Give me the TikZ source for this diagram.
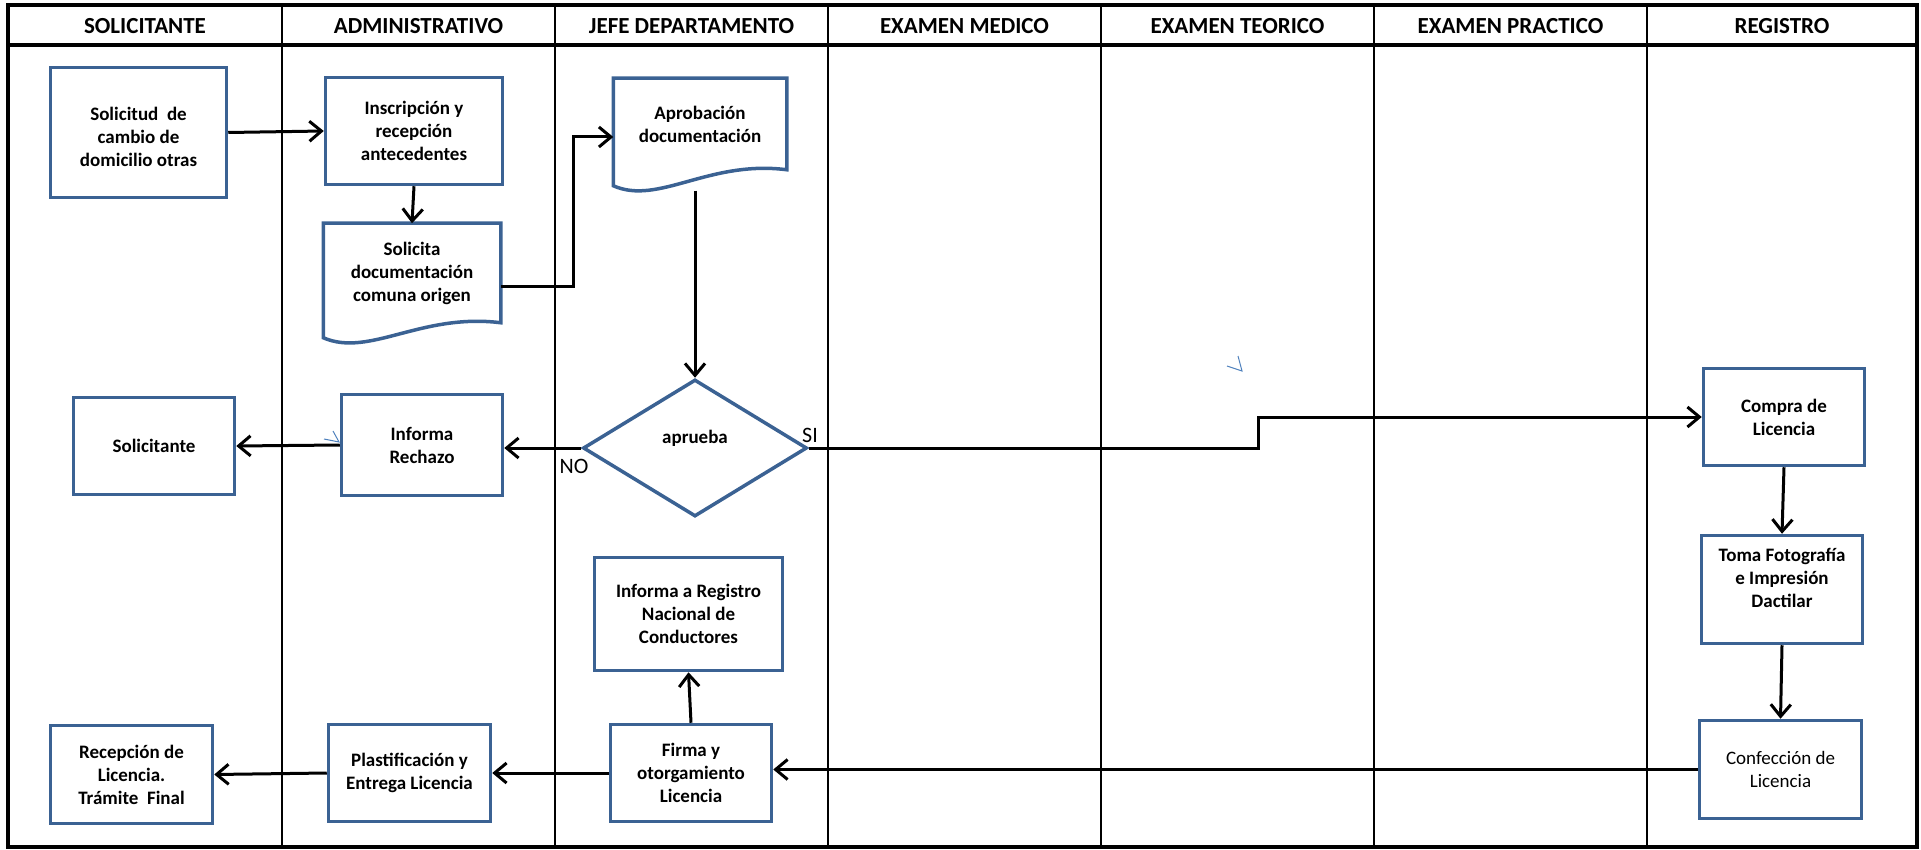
\documentclass[tikz,border=0pt]{standalone}
\usepackage{fontspec}
\setmainfont{Carlito}
\usetikzlibrary{arrows.meta,shapes.geometric}
\definecolor{boxline}{HTML}{3B6293}
\definecolor{tick}{HTML}{4F81BD}

\begin{document}
\begin{tikzpicture}[x=1pt,y=-1pt,lanehead/.style={font=\fontsize{23}{27}\selectfont\bfseries},lane/.style={line width=2.5pt},frame/.style={line width=4pt},act/.style={draw=boxline,line width=3.5pt,align=center,inner sep=0pt,font=\fontsize{19}{23}\selectfont\bfseries},doc/.style={act,draw=none},wave/.style={draw=boxline,line width=3.5pt},flow/.style={-{Straight Barb[length=12pt,width=20pt]},line width=3pt},answer/.style={font=\fontsize{22}{26}\selectfont}]
 \useasboundingbox (0,0) rectangle (1921,850);
 \draw[frame] (8,5) rectangle (1917,847);
 \draw[frame] (8,45)--(1917,45);
 \foreach \x in {282,555,828,1101,1374,1647}{\draw[lane] (\x,5)--(\x,847);}
 \foreach \cx/\lab [count=\i] in {145/SOLICITANTE,418.5/ADMINISTRATIVO,691.5/JEFE DEPARTAMENTO,964.5/EXAMEN MEDICO,1237.5/EXAMEN TEORICO,1510.5/EXAMEN PRACTICO,1782/REGISTRO}{\node[lanehead] (h\i) at (\cx,26) {\lab};}
 \node[act,minimum width=176pt,minimum height=130pt] (sol) at (138.5,132.5) {\mbox{}\\Solicitud\ \ de\\cambio de\\domicilio otras};
 \node[act,minimum width=177pt,minimum height=107pt] (insc) at (414,131) {Inscripción y\\recepción\\antecedentes};
 \node[doc,minimum width=174pt,minimum height=96pt] (solic) at (412,273) {Solicita\\documentación\\comuna origen};
 \draw[wave] (solic.south east)--(solic.north east)--(solic.north west)--([yshift=-15pt]solic.south west) .. controls +(46,20) and +(-80,-10) .. (solic.south east)--cycle;
 \node[doc,minimum width=170pt,minimum height=88pt] (aprob) at (700,124) {Aprobación\\documentación};
 \draw[wave] (aprob.south east)--(aprob.north east)--(aprob.north west)--([yshift=-16pt]aprob.south west) .. controls +(45,20) and +(-78,-10) .. (aprob.south east)--cycle;
 \node[act,minimum width=161pt,minimum height=97pt] (solt) at (154,446) {Solicitante};
 \node[act,minimum width=161pt,minimum height=101pt] (rech) at (422,445) {Informa\\Rechazo};
 \node[act,diamond,minimum width=224pt,minimum height=137pt] (dec) at (695,448) {aprueba\\\mbox{}};
 \node[answer] (lblsi) at (810,435) {SI};
 \node[answer] (lblno) at (574,466) {NO};
 \node[act,minimum width=188pt,minimum height=113pt] (infreg) at (688.5,614) {Informa a Registro\\Nacional de\\Conductores};
 \node[act,minimum width=162pt,minimum height=98pt] (recep) at (131.5,774.5) {Recepción de\\Licencia.\\Trámite\ \ Final};
 \node[act,minimum width=162pt,minimum height=97pt] (plast) at (409.5,773) {Plastificación y\\Entrega Licencia};
 \node[act,minimum width=161pt,minimum height=97pt] (firma) at (691,773) {Firma y\\otorgamiento\\Licencia};
 \node[act,minimum width=161pt,minimum height=97pt] (compra) at (1784,417) {Compra de\\Licencia};
 \node[act,minimum width=161pt,minimum height=108pt] (toma) at (1782,589.5) {Toma Fotografía\\e Impresión\\Dactilar\\\mbox{}};
 \node[act,font=\fontsize{19}{23}\selectfont,minimum width=162pt,minimum height=98pt] (conf) at (1780.5,769.5) {Confección de\\Licencia};
 \draw[flow] (sol.east)--(insc.west);
 \draw[flow] (insc.south)--(solic.north);
 \draw[flow] ([yshift=-13pt]solic.east)--++(73,0)|-([yshift=-13pt]aprob.west);
 \draw[flow] (dec.north |- aprob.south) ++(0,21)--(dec.north);
 \draw[flow] (dec.west)--(dec.west -| rech.east);
 \draw[flow] (rech.west)--(solt.east);
 \draw[flow] (dec.east)--++(450,0)|-(compra.west);
 \draw[flow] (compra.south)--(toma.north);
 \draw[flow] (toma.south)--(conf.north);
 \draw[flow] (conf.west)--(conf.west -| firma.east);
 \draw[flow] (firma.north)--(infreg.south);
 \draw[flow] (firma.west)--(plast.east);
 \draw[flow] (plast.west)--(recep.east);
 \draw[tick,line width=1pt] (324,439)--(339,442)--(333,431);
 \draw[tick,line width=1pt] (1227,366)--(1242,371)--(1238,356);
\end{tikzpicture}
\end{document}
